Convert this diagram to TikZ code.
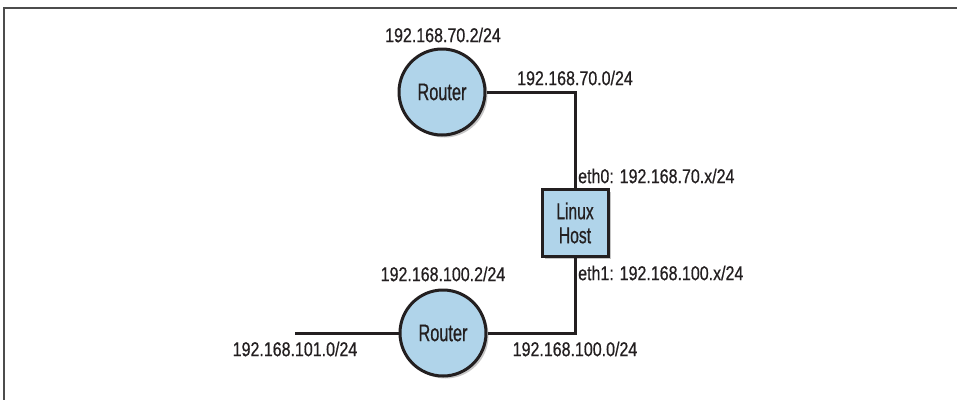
\documentclass[tikz,border=0pt]{standalone}
\usepackage{fontspec}
\setmainfont[FakeStretch=0.8, FakeBold=0.6]{Liberation Sans}
\newfontfamily\nodefont[FakeStretch=0.68, FakeBold=0.6]{Liberation Sans}
\usetikzlibrary{shadows}
\definecolor{routerblue}{HTML}{B0D4EA}
\definecolor{ink}{HTML}{231F20}
\tikzset{
  every node/.style={font=\fontsize{20}{23}\selectfont, text=ink},
  router/.style={circle, draw=ink, line width=3pt, fill=routerblue, minimum size=86pt, inner sep=0pt,
    font=\nodefont\fontsize{24}{25}\selectfont,
    drop shadow={shadow xshift=2.5pt, shadow yshift=-2.5pt, opacity=0.45}},
  hostbox/.style={rectangle, draw=ink, line width=3pt, fill=routerblue, minimum width=66pt, minimum height=67pt, inner sep=0pt, align=center,
    font=\nodefont\fontsize{23}{24}\selectfont,
    drop shadow={shadow xshift=2.5pt, shadow yshift=-2.5pt, opacity=0.45}},
  link/.style={draw=ink, line width=3pt},
  lbl/.style={inner sep=0pt},
  frame/.style={draw=gray!60!black, line width=1.6pt}
}
\begin{document}
\begin{tikzpicture}[x=1pt, y=-1pt]
\useasboundingbox (0,0) rectangle (957,400);
\coordinate (f0) at (957,8);
\coordinate (f1) at (4,8);
\coordinate (f2) at (4,400);
\draw[frame] (f0) -- (f1) -- (f2);

\node[router] (r1) at (442,92) {Router};
\node[hostbox] (host) at (575,223) {Linux\\Host};
\node[router] (r2) at (443,333) {Router};

\coordinate (c1) at (575,92);
\coordinate (c2) at (575,333);
\coordinate (lend) at (295,333);

\draw[link] (lend) -- (r2);
\draw[link] (r1) -- (c1) -- (host);
\draw[link] (host) -- (c2) -- (r2);

\node[lbl] (l1) at (443,35) {192.168.70.2/24};
\node[lbl] (l2) at (575,78) {192.168.70.0/24};
\node[lbl, anchor=west] (e0) at (578,176) {eth0: 192.168.70.x/24};
\node[lbl, anchor=west] (e1) at (578,273) {eth1: 192.168.100.x/24};
\node[lbl] (l3) at (443,274) {192.168.100.2/24};
\node[lbl] (l4) at (295,349) {192.168.101.0/24};
\node[lbl] (l5) at (575,349) {192.168.100.0/24};
\end{tikzpicture}
\end{document}
